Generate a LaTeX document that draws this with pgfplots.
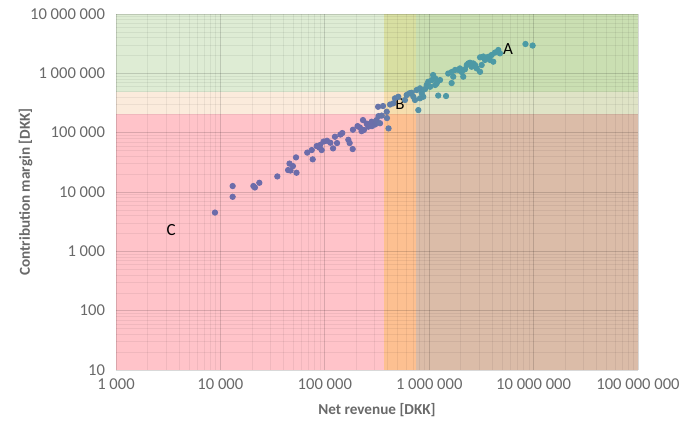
\documentclass[border=0pt]{standalone}
\usepackage{fontspec}
\setmainfont{Carlito}
\usepackage{pgfplots}
\pgfplotsset{compat=1.18}
\definecolor{tickgray}{RGB}{105,105,105}
\definecolor{cPink}{RGB}{255,195,201}
\definecolor{cOrange}{RGB}{253,192,145}
\definecolor{cBrown}{RGB}{219,188,168}
\definecolor{cGreenL}{RGB}{222,236,212}
\definecolor{cYellowG}{RGB}{216,223,162}
\definecolor{cGreen}{RGB}{202,223,178}
\definecolor{cBeige}{RGB}{251,235,220}
\definecolor{cMidBand}{RGB}{246,222,174}
\definecolor{cMidRight}{RGB}{223,227,198}

\pgfplotstableread{
x y
8870 4500
13100 12600
13100 8300
20700 12600
21400 11900
23600 14300
35100 18300
44500 23400
46900 23000
45900 30100
49500 27300
53600 21100
53000 38300
67900 46100
75000 50900
76600 35500
83600 59400
88900 56100
93300 50900
90000 61800
97300 70800
105000 73000
113000 67600
120000 54300
125000 85300
131000 66800
141000 92900
147000 98500
168000 75900
173000 66800
185000 52900
186000 112000
206000 129000
217000 122000
225000 106000
237000 111000
252000 142000
261000 126000
281000 153000
303000 137000
313000 163000
327000 190000
351000 194000
338000 144000
394000 176000
408000 118000
392000 225000
324000 273000
361000 281000
422000 298000
453000 312000
470000 379000
506000 403000
586000 355000
608000 431000
644000 460000
679000 471000
705000 403000
731000 355000
759000 523000
816000 558000
848000 466000
787000 240000
877000 403000
816000 379000
912000 543000
946000 635000
1020000 594000
979000 722000
1060000 771000
1140000 824000
1180000 678000
1090000 936000
1220000 422000
1450000 414000
1140000 635000
1270000 771000
1520000 993000
1640000 1050000
1700000 877000
1640000 686000
1770000 1140000
1900000 1140000
1970000 1210000
2050000 1050000
2120000 877000
2200000 1170000
2290000 1380000
2370000 1470000
2460000 1510000
2550000 1290000
2640000 1470000
2750000 1380000
2850000 1210000
3070000 1060000
3070000 1860000
3300000 1920000
3420000 1680000
3550000 1790000
3180000 1380000
3680000 1900000
3820000 1680000
4110000 1570000
3970000 2040000
4270000 2240000
4590000 2470000
4760000 2170000
8360000 3120000
9790000 2940000
232000 163000
283000 129000
}\pointdata

\begin{document}
\begin{tikzpicture}
\begin{axis}[
  set layers,
  scale only axis, width=261pt, height=178pt,
  xmode=log, ymode=log,
  xmin=1000, xmax=1e8, ymin=10, ymax=1e7,
  xtick={1e3,1e4,1e5,1e6,1e7,1e8},
  xticklabels={1 000,10 000,100 000,1 000 000,10 000 000,100 000 000},
  ytick={10,100,1000,1e4,1e5,1e6,1e7},
  yticklabels={10,100,1 000,10 000,100 000,1 000 000,10 000 000},
  minor xtick={2e3,3e3,4e3,5e3,6e3,7e3,8e3,9e3,2e4,3e4,4e4,5e4,6e4,7e4,8e4,9e4,2e5,3e5,4e5,5e5,6e5,7e5,8e5,9e5,2e6,3e6,4e6,5e6,6e6,7e6,8e6,9e6,2e7,3e7,4e7,5e7,6e7,7e7,8e7,9e7},
  minor ytick={2e1,3e1,4e1,5e1,6e1,7e1,8e1,9e1,2e2,3e2,4e2,5e2,6e2,7e2,8e2,9e2,2e3,3e3,4e3,5e3,6e3,7e3,8e3,9e3,2e4,3e4,4e4,5e4,6e4,7e4,8e4,9e4,2e5,3e5,4e5,5e5,6e5,7e5,8e5,9e5,2e6,3e6,4e6,5e6,6e6,7e6,8e6,9e6},
  grid=both,
  major grid style={black, opacity=0.15, line width=0.4pt},
  minor grid style={black, opacity=0.06, line width=0.3pt},
  major tick length=0pt, minor tick length=0pt,
  axis line style={draw=none},
  tick label style={font=\fontsize{8.3}{10}\selectfont, text=tickgray},
  yticklabel style={xshift=-2pt},
  xticklabel style={yshift=-1pt},
  xlabel={Net revenue [DKK]},
  ylabel={Contribution margin [DKK]},
  label style={font=\bfseries\fontsize{7.6}{9}\selectfont, text=tickgray},
  xlabel style={at={(axis description cs:0.5,-0.112)}, anchor=center},
  ylabel style={at={(axis description cs:-0.173,0.5)}, anchor=center},
  colormap={pts}{rgb255(0cm)=(108,108,170); rgb255(48cm)=(108,108,170); rgb255(68cm)=(78,152,165); rgb255(100cm)=(75,155,165)},
]
% background regions
\addplot[on layer=axis background, fill=cPink, draw=none] coordinates {(1000,10) (370000,10) (370000,210000) (1000,210000)} -- cycle;
\addplot[on layer=axis background, fill=cOrange, draw=none] coordinates {(370000,10) (740000,10) (740000,210000) (370000,210000)} -- cycle;
\addplot[on layer=axis background, fill=cBrown, draw=none] coordinates {(740000,10) (1e8,10) (1e8,210000) (740000,210000)} -- cycle;
\addplot[on layer=axis background, fill=cBeige, draw=none] coordinates {(1000,210000) (370000,210000) (370000,490000) (1000,490000)} -- cycle;
\addplot[on layer=axis background, fill=cMidBand, draw=none] coordinates {(370000,210000) (740000,210000) (740000,490000) (370000,490000)} -- cycle;
\addplot[on layer=axis background, fill=cMidRight, draw=none] coordinates {(740000,210000) (1e8,210000) (1e8,490000) (740000,490000)} -- cycle;
\addplot[on layer=axis background, fill=cGreenL, draw=none] coordinates {(1000,490000) (370000,490000) (370000,1e7) (1000,1e7)} -- cycle;
\addplot[on layer=axis background, fill=cYellowG, draw=none] coordinates {(370000,490000) (740000,490000) (740000,1e7) (370000,1e7)} -- cycle;
\addplot[on layer=axis background, fill=cGreen, draw=none] coordinates {(740000,490000) (1e8,490000) (1e8,1e7) (740000,1e7)} -- cycle;
% data
\addplot[scatter, only marks, mark=*, mark size=1.35pt, point meta=x,
  scatter/use mapped color={draw=mapped color, fill=mapped color}] table[x=x, y=y] {\pointdata};
\node[font=\fontsize{8.5}{10}\selectfont] at (axis cs:5700000,2570000) {A};
\node[font=\fontsize{8.5}{10}\selectfont] at (axis cs:525000,303000) {B};
\node[font=\fontsize{8.5}{10}\selectfont] at (axis cs:3370,2280) {C};
\end{axis}
\pgfresetboundingbox
\path ([xshift=-58pt,yshift=-28pt]current axis.south west) rectangle ([xshift=26pt,yshift=7pt]current axis.north east);
\end{tikzpicture}
\end{document}
